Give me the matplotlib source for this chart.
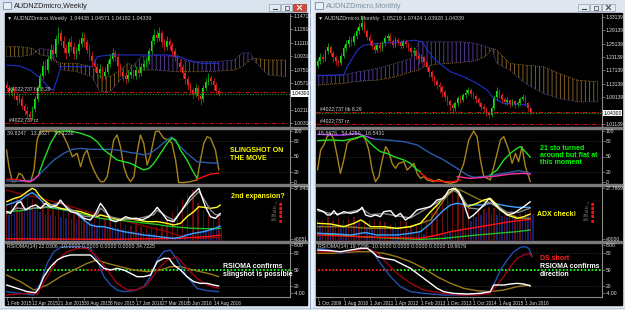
import numpy as np
import matplotlib.pyplot as plt
from matplotlib.patches import Rectangle

plt.rcParams['font.family'] = ['Liberation Sans', 'DejaVu Sans']
plt.rcParams['hatch.linewidth'] = 0.7

W, H = 625, 310
SMALL = ['Liberation Sans Narrow', 'Liberation Sans', 'DejaVu Sans']

# ---------------- weekly window (left) ----------------
wk_open0 = 1.054
wk_close = [1.050, 1.044, 1.048, 1.040, 1.034,
            1.036, 1.026, 1.020, 1.016, 1.012, 1.022,
            1.036, 1.050, 1.066, 1.080, 1.074,
            1.090, 1.102, 1.096, 1.116, 1.124,
            1.114, 1.104, 1.098, 1.112, 1.106,
            1.096, 1.100, 1.110, 1.118, 1.112,
            1.102, 1.094, 1.086, 1.078, 1.070,
            1.076, 1.066, 1.072, 1.082, 1.090,
            1.098, 1.092, 1.080, 1.072, 1.066,
            1.062, 1.068, 1.072, 1.066, 1.074,
            1.070, 1.078, 1.082, 1.086, 1.100,
            1.114, 1.122, 1.118, 1.124, 1.112,
            1.106, 1.114, 1.108, 1.100, 1.092,
            1.084, 1.078, 1.070, 1.062, 1.054,
            1.048, 1.042, 1.050, 1.040, 1.036,
            1.050, 1.058, 1.064, 1.060, 1.054,
            1.047, 1.043]
wk_high = [1.060, 1.054, 1.052, 1.052, 1.044, 1.042, 1.040, 1.030, 1.026, 1.020,
           1.026, 1.040, 1.054, 1.070, 1.086, 1.088, 1.094, 1.110, 1.108, 1.122,
           1.132, 1.130, 1.120, 1.110, 1.118, 1.120, 1.112, 1.106, 1.116, 1.126,
           1.124, 1.116, 1.108, 1.100, 1.090, 1.084, 1.082, 1.080, 1.078, 1.088,
           1.096, 1.104, 1.102, 1.096, 1.084, 1.078, 1.072, 1.074, 1.078, 1.076,
           1.080, 1.078, 1.084, 1.088, 1.092, 1.104, 1.120, 1.130, 1.128, 1.132,
           1.128, 1.118, 1.120, 1.118, 1.112, 1.104, 1.096, 1.090, 1.082, 1.074,
           1.066, 1.058, 1.052, 1.056, 1.054, 1.044, 1.054, 1.064, 1.070, 1.068,
           1.064, 1.058, 1.050]
wk_low = [1.046, 1.040, 1.040, 1.036, 1.028, 1.030, 1.022, 1.014, 1.010, 1.006,
          1.008, 1.018, 1.032, 1.046, 1.062, 1.068, 1.070, 1.086, 1.088, 1.092,
          1.110, 1.108, 1.098, 1.090, 1.094, 1.100, 1.090, 1.090, 1.096, 1.106,
          1.106, 1.098, 1.088, 1.080, 1.072, 1.064, 1.064, 1.060, 1.062, 1.068,
          1.078, 1.086, 1.086, 1.074, 1.066, 1.060, 1.056, 1.058, 1.064, 1.062,
          1.062, 1.064, 1.066, 1.074, 1.078, 1.082, 1.096, 1.110, 1.112, 1.114,
          1.106, 1.100, 1.102, 1.102, 1.094, 1.086, 1.078, 1.072, 1.064, 1.056,
          1.048, 1.042, 1.036, 1.038, 1.034, 1.028, 1.032, 1.046, 1.054, 1.054,
          1.048, 1.042, 1.040]
wk_cloud_bar = [0, 5, 10, 13, 17, 19, 21, 27, 33, 36, 40, 44, 47, 52, 58, 65, 70, 75, 81, 88, 91, 94, 96, 101, 108]
wk_span_a = [1.1059, 1.1059, 1.1037, 1.0950, 1.0925, 1.0858, 1.0836, 1.0836, 1.0790, 1.0656, 1.0656, 1.0746, 1.0836,
             1.0746, 1.0746, 1.0723, 1.0723, 1.0723, 1.0730, 1.0746, 1.0790, 1.0880, 1.0903, 1.0880, 1.0880]
wk_span_b = [1.0925, 1.0925, 1.0950, 1.1037, 1.1014, 1.0880, 1.0750, 1.0723, 1.0656, 1.0455, 1.0455, 1.0612, 1.0723,
             1.0925, 1.0940, 1.0925, 1.0858, 1.0858, 1.0858, 1.0880, 1.0976, 1.0976, 1.0858, 1.0680, 1.0656]
wk_kijun = [(0, 1.0813), (5, 1.080), (9, 1.0746), (13, 1.064), (16, 1.052), (18, 1.047), (19.5, 1.062),
            (21, 1.079), (33, 1.079), (35, 1.0925), (40, 1.0948), (62, 1.0948), (67, 1.0925), (70, 1.088),
            (75, 1.0836), (82, 1.0836)]
wk_yticks = [1.14710, 1.12910, 1.11110, 1.09310, 1.07510, 1.05710, 1.02110, 1.00310]
wk_lines_red = [1.0450, 1.0034]
wk_line_green = 1.0423

wk_dates = ['1 Feb 2015', '12 Apr 2015', '21 Jun 2015', '30 Aug 2015', '8 Nov 2015',
            '17 Jan 2016', '27 Mar 2016', '5 Jun 2016', '14 Aug 2016']

wk_sto_gold = [(0, 62.8), (0.9, 30.1), (2.2, 0.7), (3.5, 0.7), (4.8, 17), (6.0, 13.8), (7.3, 0.7), (9.3, 0.7),
               (10.6, 23.6), (11.8, 82.4), (13.1, 100), (19.6, 100), (21.5, 95.5), (23.4, 75.9), (25.4, 49.7),
               (27.3, 56.2), (28.6, 30.1), (29.9, 53), (31.1, 62.8), (32.4, 39.9), (33.7, 23.6), (35, 10.5),
               (36.3, 0.7), (37.6, 0.7), (38.9, 10.5), (41.4, 82.4), (42.7, 92.2), (44, 69.3), (45.3, 30.1),
               (46.6, 10.5), (47.9, 0.7), (49.2, 10.5), (50.4, 56.2), (51.7, 92.2), (53, 75.9), (54.3, 33.4),
               (55.6, 53), (57.5, 98.7), (58.8, 100), (60.7, 85.7), (62.7, 82.4), (63.9, 75.9), (65.3, 43.2),
               (66.5, -1), (68.5, -1), (71, 0.7), (73.6, 4), (74.9, 43.2), (76.2, 75.9), (77.5, 89),
               (78.8, 85.7), (80.7, 62.8), (82, 23.6)]
wk_sto_green = [(12.5, 17), (14.4, 43.2), (17, 75.9), (19.6, 98.7), (21.5, 100), (24.7, 100), (28.6, 95.5),
                (32.4, 88.9), (35, 79.1), (37.6, 62.8), (40.2, 53), (42.7, 43.2), (45.3, 39.9), (47.9, 36.6),
                (50.4, 30.1), (53, 23.6), (55, 26.8), (56.9, 36.6), (59.5, 56.2), (62, 75.9), (63.9, 85.7),
                (65.3, 82.4), (67.2, 62.8), (69.7, 43.2), (71.7, 23.6), (73.6, 7.2)]
wk_sto_red = [[(0, 5.3), (2.8, 5.3), (5.4, 4)], [(73.6, 5.3), (76.2, 10.5), (78.8, 15.7), (82, 17)]]
wk_sto_magenta = [(5.4, 3), (9.3, 0.7), (11.8, 10.5), (12.5, 15)]
wk_sto_blue = [(0, 2), (5.4, 1.5), (10.6, 4), (14.4, 23.6), (18.3, 43.2), (22.1, 56.2), (25.4, 64.1),
               (28.6, 66), (32.4, 64.1), (40.2, 64.1), (44, 62), (47.9, 57.6), (50.4, 56.2), (53, 53),
               (55.6, 56.2), (58.2, 66), (62, 82.4), (63.9, 88), (65.9, 75.9), (69.7, 56.2), (73.6, 39.9),
               (77.5, 37.9), (82, 36.6)]

wk_adx_red_hist = [70, 75, 80, 78, 82, 76, 70, 72, 66, 62, 64, 58, 52, 55, 50, 46, 44, 40, 45, 42, 38,
                   34, 36, 30, 28, 32, 26, 24, 22, 26, 30, 40, 52, 64, 76, 86, 92, 70, 55, 48, 44, 46]
wk_adx_blue_hist = [48, 52, 55, 58, 60, 56, 52, 50, 48, 46, 44, 42, 40, 38, 36, 34, 32, 30, 28, 26, 25,
                    24, 22, 20, 18, 17, 16, 14, 12, 10, 9, 8, 8, 10, 12, 14, 16, 18, 20, 22, 24, 26]
wk_adx_white = [(0, 53.3), (1.5, 50.3), (4.1, 68.5), (5.4, 71.5), (7.3, 56.4), (9.3, 62.4), (11.2, 65.5),
                (13.1, 59.4), (15.1, 68.5), (17, 61.2), (19.6, 65.5), (20.8, 74.5), (22.8, 62.4), (24.7, 53.3),
                (27.3, 50.3), (29.9, 41.2), (32.4, 38.2), (34.4, 50.3), (36.3, 68.5), (38.2, 56.4), (40.2, 38.2),
                (42.1, 35.2), (44, 38.2), (46, 44.2), (47.9, 41.2), (50.4, 41.2), (52.4, 38.2), (55, 44.2),
                (56.9, 53.3), (58.2, 61.2), (60.1, 50.3), (62, 38.2), (64.6, 35.2), (67.8, 56.4), (71, 80.6),
                (74.3, 95.8), (76.8, 62.4), (78.8, 44.2), (80.7, 41.2), (82.6, 50.3)]
wk_adx_gray = [(0, 50), (4.1, 60), (7.3, 58), (11.2, 60), (15.1, 62), (20.8, 70), (24.7, 58), (29.9, 45),
               (34.4, 44), (36.3, 60), (40.2, 44), (44, 40), (50.4, 40), (56.9, 48), (58.2, 56), (62, 44),
               (64.6, 38), (71, 74), (74.3, 90), (76.8, 72), (78.8, 56), (80.7, 48), (82.6, 47)]
wk_adx_yellow = [(0, 71.5), (3.1, 77.6), (5.4, 80.6), (8, 89.7), (9.9, 95.8), (11.2, 92.7), (12.5, 83.6),
                 (14.4, 74.5), (17, 65.5), (20.8, 59.4), (24.7, 56.4), (28.6, 53.3), (32.4, 47.3), (35, 44.2),
                 (36.3, 47.3), (38.9, 44.2), (41.4, 41.2), (44, 38.2), (46.6, 41.2), (50.4, 38.2), (54.3, 35.2),
                 (58.2, 35.2), (62, 32.1), (64.6, 29.1), (67.2, 32.1), (69.7, 44.2), (72.3, 53.3), (74.3, 62.4),
                 (76.2, 61.2), (78.8, 59.4), (81.3, 61.2), (82.6, 65.5)]
wk_adx_lblue = [(0, 65.5), (2.8, 69.7), (5.4, 74.5), (8, 83.6), (9.9, 87.9), (11.8, 81.8), (14.4, 68.5),
                (18.3, 61.2), (22.1, 57.6), (26, 53.3), (29.9, 38.2), (32.4, 29.1), (35, 26.1), (37.6, 26.1),
                (41.4, 21.2), (45.3, 17), (49.2, 13.9), (53, 10.9), (56.9, 9.1), (60.7, 6.7), (64.6, 4.8),
                (67.2, 6.7), (69.7, 10.9), (72.3, 13.9), (76.2, 17), (80, 21.8), (82.6, 27.3)]
wk_adx_maroon = [(0, 92.7), (5.4, 85.5), (10.6, 80.6), (15.7, 74.5), (20.8, 68.5), (26, 61.2), (31.1, 53.3),
                 (36.3, 47.3), (41.4, 41.2), (46.6, 35.2), (51.7, 29.1), (56.9, 23), (62, 17), (65.9, 10.9),
                 (69.7, 6.7), (74.9, 4.8), (82.6, 6.7)]
wk_adx_red = [(0, 4), (40, 3), (67.2, 4.8), (72.3, 6.7), (77.5, 7.9), (82.6, 10.9)]
wk_adx_green = [(0, 53.3), (5.4, 55), (10.6, 59.4), (15.7, 61.2), (20.8, 57.6), (26, 53.3), (31.1, 47.3),
                (36.3, 41.2), (41.4, 38.2), (46.6, 36.4), (51.7, 33.4), (56.9, 30.9), (62, 27.3), (67.2, 24.8),
                (72.3, 23), (77.5, 22.4), (82.6, 23)]

wk_rsi_white = [(0, 21.8), (4.1, 15.7), (8, 9.7), (11.2, 7.9), (12.5, 15.7), (14.4, 37), (17, 55.1),
                (19.6, 67.3), (22.1, 73.3), (24.7, 76.4), (32.4, 76.4), (35, 64.2), (37.6, 52.1), (40.2, 49.1),
                (42.7, 52.1), (45.3, 49.1), (47.9, 43), (50.4, 37), (53, 37), (55.6, 40), (58.2, 64.2),
                (60.7, 70.3), (62.7, 70.3), (64.6, 58.2), (67.2, 49.1), (69.7, 37), (72.3, 27.9), (74.9, 24.8),
                (77.5, 24.8), (80, 21.8), (82, 20)]
wk_rsi_blue = [(0, 9.7), (5.4, 6.6), (10.6, 3.6), (13.1, 24.8), (15.7, 61.2), (18.3, 82.4), (20.8, 90.3),
               (23.4, 91.5), (28.6, 91.5), (32.4, 88.5), (35, 67.3), (37.6, 37), (40.2, 21.8), (42.7, 12.7),
               (45.3, 9.7), (49.2, 11.5), (53, 18.8), (55.6, 37), (58.2, 67.3), (60.7, 82.4), (63.3, 85.4),
               (65.9, 67.3), (69.7, 37), (73.6, 15.7), (77.5, 11.5), (82, 9.7)]
wk_rsi_red = [(0, 3.6), (8, 6.6), (11.8, 5.4), (15.7, 37), (19.6, 67.3), (23.4, 82.4), (27.3, 88.5),
              (31.1, 88.5), (35, 73.3), (38.9, 49.1), (42.7, 24.8), (46.6, 12.7), (50.4, 12.7), (54.3, 21.8),
              (58.2, 49.1), (62, 67.3), (65.9, 73.3), (69.7, 52.1), (73.6, 33.9), (77.5, 21.8), (82, 15.7)]
wk_rsi_olive = [(0, 40), (5.4, 27.9), (10.6, 12.7), (15.7, 21.8), (20.8, 37), (26, 49.1), (31.1, 61.2),
                (35, 67.3), (38.9, 61.2), (44, 55.1), (49.2, 49.1), (54.3, 46.1), (59.5, 49.1), (63.3, 55.1),
                (67.2, 55.1), (71, 50.3), (74.9, 46.1), (78.8, 41.8), (82, 37)]
wk_rsi_mid = [(0, 31, '#20ff20'), (31, 42, '#ff2020'), (42, 109.5, '#20ff20')]

# ---------------- monthly window (right) ----------------
mo_open0 = 1.185
mo_close = [1.198, 1.212, 1.205, 1.228, 1.240,
            1.222, 1.210, 1.200, 1.192,
            1.215, 1.238, 1.250,
            1.262, 1.255, 1.275, 1.290, 1.300,
            1.312,
            1.290, 1.272, 1.258, 1.245, 1.232,
            1.248, 1.238, 1.252,
            1.268, 1.275, 1.260,
            1.248, 1.262, 1.255, 1.245, 1.258, 1.250,
            1.238, 1.225, 1.230, 1.215,
            1.205, 1.210, 1.195,
            1.180, 1.165, 1.150,
            1.140, 1.128, 1.120, 1.105,
            1.092, 1.080, 1.066, 1.058,
            1.072, 1.088, 1.082, 1.096,
            1.104, 1.112, 1.100, 1.094,
            1.085, 1.074, 1.062, 1.056, 1.044, 1.036,
            1.058, 1.090, 1.108, 1.098, 1.084,
            1.076, 1.082, 1.070, 1.078, 1.066, 1.074,
            1.084, 1.092,
            1.072, 1.058, 1.043]
mo_high = [1.208, 1.222, 1.220, 1.236, 1.252, 1.246, 1.228, 1.216, 1.206, 1.222,
           1.246, 1.262, 1.274, 1.270, 1.284, 1.300, 1.312, 1.337, 1.318, 1.296,
           1.280, 1.266, 1.252, 1.256, 1.256, 1.260, 1.276, 1.284, 1.282, 1.266,
           1.270, 1.268, 1.262, 1.266, 1.264, 1.256, 1.244, 1.240, 1.236, 1.222,
           1.220, 1.214, 1.200, 1.186, 1.172, 1.158, 1.146, 1.136, 1.126, 1.112,
           1.098, 1.086, 1.074, 1.080, 1.094, 1.096, 1.104, 1.114, 1.122, 1.118,
           1.108, 1.100, 1.090, 1.080, 1.070, 1.062, 1.050, 1.064, 1.098, 1.121,
           1.114, 1.104, 1.090, 1.092, 1.086, 1.086, 1.082, 1.080, 1.090, 1.100,
           1.096, 1.076, 1.062]
mo_low = [1.178, 1.190, 1.195, 1.200, 1.220, 1.214, 1.196, 1.188, 1.180, 1.186,
          1.208, 1.230, 1.242, 1.244, 1.248, 1.266, 1.280, 1.292, 1.282, 1.262,
          1.246, 1.236, 1.222, 1.226, 1.228, 1.230, 1.244, 1.258, 1.252, 1.238,
          1.240, 1.246, 1.236, 1.238, 1.240, 1.228, 1.214, 1.216, 1.204, 1.194,
          1.196, 1.184, 1.168, 1.152, 1.138, 1.128, 1.116, 1.104, 1.092, 1.078,
          1.066, 1.050, 1.044, 1.050, 1.064, 1.072, 1.076, 1.088, 1.096, 1.090,
          1.084, 1.074, 1.064, 1.052, 1.044, 1.034, 1.028, 1.030, 1.052, 1.082,
          1.088, 1.074, 1.066, 1.068, 1.062, 1.064, 1.058, 1.060, 1.068, 1.078,
          1.066, 1.050, 1.036]
mo_cloud_bar = [0, 5, 10, 14, 18, 23, 29, 36, 39, 41, 46, 50, 55, 61, 65, 67, 69, 74, 80, 87, 93, 100, 108]
mo_span_a = [1.127, 1.130, 1.132, 1.137, 1.140, 1.142, 1.150, 1.167, 1.172, 1.182, 1.190, 1.192, 1.195,
             1.200, 1.215, 1.237, 1.232, 1.192, 1.187, 1.182, 1.162, 1.142, 1.137]
mo_span_b = [1.157, 1.157, 1.157, 1.165, 1.170, 1.177, 1.190, 1.207, 1.257, 1.257, 1.257, 1.257, 1.257,
             1.252, 1.242, 1.237, 1.192, 1.172, 1.132, 1.102, 1.087, 1.077, 1.077]
mo_kijun = [(0, 1.155), (10.1, 1.158), (11.4, 1.182), (15.3, 1.232), (17.8, 1.247), (23, 1.252),
            (33.2, 1.257), (37.1, 1.262), (40.3, 1.257), (42.3, 1.232), (44.8, 1.207), (48.6, 1.182),
            (51.2, 1.167), (56.3, 1.152), (61.4, 1.132), (65.3, 1.112), (67.8, 1.087), (71.7, 1.072),
            (79.4, 1.068), (82, 1.064)]
mo_yticks = [1.33139, 1.29139, 1.25139, 1.21139, 1.17139, 1.13139, 1.09139, 1.01139]
mo_lines_red = [1.0464, 1.0104]
mo_line_green = 1.0419

mo_dates = ['1 Oct 2009', '1 Aug 2010', '1 Jun 2011', '1 Apr 2012', '1 Feb 2013',
            '1 Dec 2013', '1 Oct 2014', '1 Aug 2015', '1 Jun 2016']

mo_sto_gold = [(0, 23.6), (1.2, 62.8), (2.4, 72.6), (3.7, 88.9), (5, 95.5), (6.3, 82.4), (7.6, 49.7),
               (8.8, 17), (10.1, 43.2), (11.4, 75.9), (12.7, 82.4), (15.3, 85.7), (17.2, 92.2), (18.5, 82.4),
               (19.7, 62.8), (21, 23.6), (22.3, 0.7), (23.6, 10.5), (24.9, 43.2), (26.2, 69.3), (27.4, 59.5),
               (28.7, 36.6), (30, 26.8), (31.3, 36.6), (33.2, 39.9), (34.5, 23.6), (35.8, 30.1), (37.1, 36.6),
               (38.3, 17), (39.6, 7.2), (40.9, 10.5), (42.2, 4), (44.7, 0.7), (46.7, 5.3), (48.6, 0.7),
               (51.2, -2.6), (53.7, 0.7), (56.3, 36.6), (58.2, 82.4), (60.1, 100), (61.4, 88.9), (62.7, 43.2),
               (64, 10.5), (66.5, 4), (68.5, 43.2), (70.4, 82.4), (71.7, 88.9), (73.6, 62.8), (74.9, 36.6),
               (76.2, 56.2), (77.4, 39.9), (78.7, 69.3), (80, 30.1), (81.9, 0.7)]
mo_sto_purple = [(0, 94), (5, 92), (10.1, 92), (15.3, 95), (18.5, 90), (21.7, 84)]
mo_sto_blue = [(21.7, 84), (26.8, 82.4), (33.2, 79.1), (38.3, 72.6), (43.5, 56.2), (48.6, 43.2), (53.7, 26.8),
               (57.6, 13.8), (60.1, 9.2), (64, 10.5), (67.8, 13.8), (71.7, 17), (75.5, 20.3), (77.4, 22.3),
               (79.4, 20.3), (81.9, 17)]
mo_sto_green = [[(0, 81.1), (5, 82.4), (10.1, 81.1), (14, 85.7), (17.8, 90.2), (19.1, 82.4), (21.7, 69.3),
                 (24.2, 59.5), (26.8, 56.2), (29.4, 49.7), (33.2, 43.2), (35.8, 36.6), (38.3, 23.6), (39.6, 20.3)],
                [(66.5, 13.8), (69.1, 23.6), (71.7, 43.2), (74.2, 56.2), (76.8, 66), (78.1, 69.3), (80, 59.5),
                 (81.9, 48.4)]]
mo_sto_red = [(39.6, 18.3), (42.2, 7.2), (44.7, 2.6), (48.6, 0.7), (52.4, 0.7), (55, 4)]
mo_sto_magenta = [(53.7, 10.5), (58.8, 7.2), (64, 9.2), (69.1, 11.8), (74.2, 15.7), (79.4, 17), (81.9, 15.1)]

mo_adx_red_hist = [40, 38, 44, 36, 42, 38, 40, 44, 36, 34, 38, 40, 36, 34, 30, 32, 36, 34, 30, 28, 32,
                   40, 52, 64, 74, 84, 92, 94, 80, 60, 50, 54, 58, 62, 60, 54, 48, 46, 48, 50, 52, 56]
mo_adx_blue_hist = [30, 28, 32, 30, 26, 28, 30, 32, 28, 26, 24, 26, 22, 20, 22, 24, 20, 18, 16, 14, 12,
                    10, 10, 12, 14, 16, 20, 24, 28, 36, 44, 48, 52, 50, 48, 46, 44, 42, 44, 46, 48, 50]
mo_adx_white = [(0, 57.6), (2.4, 53.3), (3.7, 47.3), (5, 47.3), (6.3, 55.2), (7.6, 47.3), (10.1, 53.3),
                (12.7, 50.3), (15.3, 53.3), (17.2, 61.2), (18.5, 47.3), (20.4, 44.2), (22.3, 47.3), (24.2, 44.2),
                (25.5, 53.3), (28.1, 55.2), (30, 44.2), (31.9, 50.3), (33.8, 38.2), (35.8, 44.2), (38.3, 56.4),
                (40.9, 59.4), (43.5, 62.4), (46, 74.5), (48.6, 77.6), (50.5, 92.7), (52.4, 95.8), (54.4, 89.7),
                (56.3, 68.5), (58.2, 41.2), (60.1, 47.3), (62.1, 56.4), (64, 65.5), (66, 77.6), (67.8, 68.5),
                (70.4, 56.4), (73, 47.3), (75.5, 50.3), (77.4, 56.4), (79.4, 62.4), (81.9, 71.5)]
mo_adx_gray = [(0, 55), (5, 50), (10.1, 50), (17.2, 58), (20.4, 48), (25.5, 50), (30, 46), (35.8, 42),
               (40.9, 56), (46, 70), (52.4, 92), (55, 85), (58.2, 60), (62.1, 58), (66, 70), (70.4, 60),
               (73, 52), (77.4, 52), (81.9, 60)]
mo_adx_yellow = [(0, 32.1), (5, 30.9), (10.1, 26.1), (14, 32.1), (16.5, 38.2), (17.8, 35.2), (20.4, 26.1),
                 (25.5, 26.1), (30.6, 23), (35.8, 26.1), (39.6, 32.1), (43.5, 53.3), (46.7, 68.5), (48.6, 80.6),
                 (51.2, 89.7), (53.1, 95.8), (55, 80.6), (57.6, 62.4), (61.4, 68.5), (64, 74.5), (66.5, 77.6),
                 (69.1, 65.5), (73, 47.3), (76.8, 41.2), (79.4, 44.2), (81.9, 49.1)]
mo_adx_lblue = [(0, 14), (7.6, 12.7), (12.7, 10.9), (16.5, 14), (18.5, 15.2), (23, 10.9), (30.6, 10.9),
                (35.8, 14), (39.6, 17), (43.5, 32.1), (46, 44.2), (48.6, 56.4), (51.2, 65.5), (53.7, 68.5),
                (57.6, 65.5), (64, 65.5), (66.5, 68.5), (69.1, 67.3), (73, 63.6), (76.8, 61.2), (81.9, 61.2)]
mo_adx_olive = [(0, 26.1), (10.1, 26.1), (20.4, 23), (30.6, 23), (35.8, 26.1), (43.5, 38.2), (48.6, 74.5),
                (52.4, 95.8), (55, 92.7), (58.8, 83.6), (62.7, 74.5), (66.5, 69.7), (70.4, 56.4), (74.2, 47.3),
                (78.1, 41.2), (81.9, 41.2)]
mo_adx_red = [(0, 10.9), (23, 6.7), (39.6, 4.8), (46, 10.9), (51.2, 17), (58.8, 23), (66.5, 29.1),
              (74.2, 35.2), (81.9, 39.4)]
mo_adx_green = [(0, 14), (7.6, 10.9), (16.5, 7.9), (29.4, 4.8), (39.6, 3), (48.6, 4.8), (55, 7.9),
                (61.4, 10.9), (69.1, 14), (76.8, 17), (81.9, 20)]

mo_rsi_white = [(0, 85.4), (5, 84.2), (8.8, 82.4), (12.7, 85.4), (16.5, 88.5), (19.1, 88.5), (21, 82.4),
                (23, 73.3), (25.5, 70.3), (29.4, 67.3), (33.2, 58.2), (35.8, 52.1), (38.3, 43), (40.9, 33.9),
                (43.5, 24.8), (46, 15.7), (48.6, 9.7), (52.4, 6.6), (57.6, 5.4), (62.7, 6.6), (66.5, 9.7),
                (67.8, 21.8), (71.7, 21.8), (74.2, 23.6), (76.8, 24.8), (79.4, 23.6), (81.9, 20)]
mo_rsi_blue = [(0, 88.5), (5, 85.4), (8.8, 79.4), (11.4, 82.4), (15.3, 86.6), (19.1, 88.5), (21.7, 79.4),
               (24.2, 61.2), (28.1, 37), (31.9, 18.8), (35.8, 9.7), (40.9, 6.6), (48.6, 3.6), (55, 3.6),
               (61.4, 6.6), (66.5, 9.7), (67.8, 21.8), (70.4, 49.1), (73, 67.3), (75.5, 82.4), (78.1, 90.3),
               (80, 91.5), (81.3, 88.5), (82.6, 73.3)]
mo_rsi_red = [(0, 82.4), (10.1, 82.4), (15.3, 85.4), (19.1, 88.5), (23, 79.4), (26.8, 61.2), (30.6, 43),
              (35.8, 24.8), (40.9, 12.7), (48.6, 6.6), (55, 3.6), (61.4, 3.6), (66.5, 6.6), (69.1, 21.8),
              (71.7, 37), (74.2, 55.1), (76.8, 70.3), (79.4, 76.4), (81.3, 79.4), (82.6, 73.3)]
mo_rsi_olive = [(0, 79.4), (5, 79.4), (10.1, 80.6), (15.3, 82.4), (20.4, 82.4), (25.5, 79.4), (30.6, 73.3),
                (35.8, 64.2), (40.9, 52.1), (46, 37), (51.2, 24.8), (56.3, 15.7), (61.4, 11.5), (66.5, 9.7),
                (71.7, 12.7), (76.8, 18.8), (81.9, 21.8)]
mo_rsi_mid = [(0, 29, '#ff2020'), (29, 109.5, '#20ff20')]


def px_axes(fig, x0, y0, x1, y1):
    return fig.add_axes([x0 / W, 1 - y1 / H, (x1 - x0) / W, (y1 - y0) / H])


def line(ax, pts, color, lw=1.0):
    xs, ys = zip(*pts)
    ax.plot(xs, ys, color=color, lw=lw, solid_joinstyle='round', solid_capstyle='round')


def style(ax, ylim, ticks, labels):
    ax.set_facecolor('none')
    ax.set_xlim(-0.6, 109.5)
    ax.set_ylim(*ylim)
    for s in ['left', 'top', 'bottom']:
        ax.spines[s].set_visible(False)
    ax.spines['right'].set_color('#8a8a8a')
    ax.spines['right'].set_linewidth(0.8)
    ax.yaxis.tick_right()
    ax.set_yticks(ticks)
    ax.set_yticklabels(labels, family=SMALL)
    ax.tick_params(axis='y', length=2, width=0.5, color='#8a8a8a', labelcolor='#e0e0e0', labelsize=3.6, pad=0.8)
    ax.set_xticks([])


def candles(ax, op0, close, high, low):
    c = np.array(close)
    o = np.array([op0] + close[:-1])
    x = np.arange(len(c))
    up = c >= o
    ax.vlines(x, low, high, colors=np.where(up, '#10a010', '#c01818'), lw=0.6)
    ax.bar(x, c - o, bottom=o, width=0.62, color=np.where(up, '#18e018', '#ff2a2a'), linewidth=0)


def cloud(ax, bars, a, b):
    bars, a, b = np.array(bars), np.array(a), np.array(b)
    ax.fill_between(bars, a, b, where=a >= b, interpolate=True, facecolor='none',
                    edgecolor='#7e6024', hatch='||||', linewidth=0)
    ax.fill_between(bars, a, b, where=a < b, interpolate=True, facecolor='none',
                    edgecolor='#54388e', hatch='||||', linewidth=0)
    ax.plot(bars, a, color='#b08830', lw=0.6, ls=(0, (1, 1.5)))
    ax.plot(bars, b, color='#7a58c0', lw=0.6, ls=(0, (1, 1.5)))


def window(fig, x0, x1, d):
    px = x1 - 20
    # main price panel
    ax = px_axes(fig, x0, 14, px, 127)
    style(ax, d['ylim'], d['yticks'], ['%.5f' % v for v in d['yticks']])
    cloud(ax, d['cloud_bar'], d['span_a'], d['span_b'])
    line(ax, d['kijun'], '#2030c8', 0.8)
    candles(ax, d['open0'], d['close'], d['high'], d['low'])
    for v in d['red_lines']:
        ax.axhline(v, color='#c01010', lw=0.8, ls=(0, (4, 1.5, 1, 1.5)))
    ax.axhline(d['green_line'], color='#20a020', lw=0.8, ls=(0, (1, 1.5)))
    ax.text(1.0, d['red_lines'][0] + d['lab_off'], '#4022;737 fib 8.29', fontsize=3.6, color='#d8d8d8',
            family=SMALL)
    ax.text(1.0, d['red_lines'][1] + d['lab_off'], '#4022;737 rz', fontsize=3.6, color='#d8d8d8', family=SMALL)
    ax.text(1.0 + 1.5 / (px - x0), d['close'][-1], '%.5f' % d['close'][-1], transform=ax.get_yaxis_transform(),
            fontsize=3.6, color='black', va='center', ha='left', family=SMALL,
            bbox=dict(facecolor='white', edgecolor='none', pad=0.4))
    ax.text(0.006, 0.985, d['title'], transform=ax.transAxes, fontsize=3.8, color='#d0d0d0', va='top',
            family=SMALL)

    # stochastics
    ax = px_axes(fig, x0, 129, px, 184)
    style(ax, (-3.9, 103.9), [100, 80, 50, 20, 0], ['100', '80', '50', '20', '0'])
    for v in [80, 50, 20]:
        ax.axhline(v, color='#505050', lw=0.5, ls=(0, (1, 2)))
    for seg in d['sto']:
        line(ax, seg[0], seg[1])
    ax.text(0.006, 0.97, d['sto_title'], transform=ax.transAxes, fontsize=3.8, color='#d0d0d0', va='top',
            family=SMALL)

    # ADX
    ax = px_axes(fig, x0, 186, px, 241)
    style(ax, (0, 100), [97, 4], d['adx_labels'])
    bars = np.arange(0, 2 * len(d['hist_red']), 2)
    ax.bar(bars, d['hist_red'], width=0.55, color='#6a0a0a', linewidth=0)
    ax.bar(bars + 1, d['hist_blue'], width=0.55, color='#14207a', linewidth=0)
    for seg in d['adx']:
        line(ax, seg[0], seg[1])
    for i in range(5):
        ax.text(1.0 - 10 / (px - x0), 0.68 - i * 0.075, '\u25a0', transform=ax.transAxes, fontsize=4,
                color='#ff1010', va='center', ha='center')
        ax.text(1.0 - 13 / (px - x0), 0.68 - i * 0.075, ['7', '21', '50', '100', '200'][i], transform=ax.transAxes,
                fontsize=2.6, color='#909090', va='center', ha='right', family=SMALL)

    # RSIOMA
    ax = px_axes(fig, x0, 243, px, 297)
    style(ax, (0, 98.2), [94.5, 80, 50, 20, 7.3], ['8.00', '80', '50', '20', '-4.00'])
    for v in [80, 20]:
        ax.axhline(v, color='#505050', lw=0.5, ls=(0, (1, 2)))
    for s0, s1, col in d['rsi_mid']:
        ax.hlines(50, s0, s1, color=col, lw=1.3, ls=(0, (1, 1)))
    for seg in d['rsi']:
        line(ax, seg[0], seg[1])
    ax.text(0.006, 0.985, d['rsi_title'], transform=ax.transAxes, fontsize=3.8, color='#d0d0d0', va='top',
            family=SMALL)
    ax.spines['bottom'].set_visible(True)
    ax.spines['bottom'].set_color('#8a8a8a')
    ax.spines['bottom'].set_linewidth(0.8)
    ax.set_xticks(np.arange(0, 90, 10))
    ax.set_xticklabels(d['dates'], ha='left', family=SMALL)
    ax.tick_params(axis='x', length=2, width=0.5, color='#8a8a8a', labelcolor='#e0e0e0', labelsize=3.4, pad=0.8)


fig = plt.figure(figsize=(W / 100, H / 100), dpi=100, facecolor='#d3dde9')
bg = fig.add_axes([0, 0, 1, 1])
bg.set_xlim(0, W)
bg.set_ylim(H, 0)
bg.axis('off')

# window frames
bg.add_patch(Rectangle((0, 0), 309, 310, color='#d9e3ee'))
bg.add_patch(Rectangle((312, 0), 313, 310, color='#dfe6ee'))
bg.add_patch(Rectangle((308.5, 0), 3.5, 310, color='#eef3f9'))
bg.plot([310, 310], [0, 310], color='#8eaad0', lw=0.8)
bg.add_patch(Rectangle((5, 13), 302, 292, color='black'))
bg.add_patch(Rectangle((316, 13), 306, 292, color='black'))
for y in [127, 184, 241]:
    bg.add_patch(Rectangle((5, y), 302, 2, color='#7a7a7a'))
    bg.add_patch(Rectangle((316, y), 306, 2, color='#7a7a7a'))
bg.plot([0, 625], [307.5, 307.5], color='#b8c4d2', lw=0.6)

# title bars
for wx, title, tcol in [(3, 'AUDNZDmicro,Weekly', '#202020'), (315, 'AUDNZDmicro,Monthly', '#8090a0')]:
    bg.add_patch(Rectangle((wx, 2), 8, 7, facecolor='#e8eef6', edgecolor='#5a7aa8', lw=0.5))
    fig.text((wx + 11) / W, 1 - 6.5 / H, title, fontsize=5.2, color=tcol, va='center', ha='left')
for bx, act in [(269, True), (578, False)]:
    bg.add_patch(Rectangle((bx, 4), 11, 7, facecolor='#e4eaf2', edgecolor='#8fa0b8', lw=0.5))
    bg.plot([bx + 3.5, bx + 7.5], [8.5, 8.5], color='#404040', lw=0.8)
    bg.add_patch(Rectangle((bx + 12, 4), 11, 7, facecolor='#e4eaf2', edgecolor='#8fa0b8', lw=0.5))
    bg.add_patch(Rectangle((bx + 15.5, 5.5), 4, 4, facecolor='none', edgecolor='#404040', lw=0.5))
    bg.add_patch(Rectangle((bx + 24, 4), 13, 7, facecolor='#d04a3c' if act else '#e4eaf2',
                           edgecolor='#9a3a30' if act else '#8fa0b8', lw=0.5))
    xc = '#ffffff' if act else '#404040'
    bg.plot([bx + 28.5, bx + 32.5], [5.5, 9.5], color=xc, lw=0.8)
    bg.plot([bx + 28.5, bx + 32.5], [9.5, 5.5], color=xc, lw=0.8)

wk = dict(open0=wk_open0, close=wk_close, high=wk_high, low=wk_low,
          ylim=(0.9980, 1.1498), yticks=wk_yticks, cloud_bar=wk_cloud_bar, span_a=wk_span_a, span_b=wk_span_b,
          kijun=wk_kijun, red_lines=wk_lines_red, green_line=wk_line_green, lab_off=0.0025,
          title='\u25bc AUDNZDmicro,Weekly  1.04438 1.04571 1.04182 1.04339',
          sto_title='39.8247   13.3827   50.1238',
          sto=[(wk_sto_gold, '#a8841c'), (wk_sto_blue, '#2a5ca8'), (wk_sto_red[0], '#e01010'),
               (wk_sto_magenta, '#ff30a0'), (wk_sto_green, '#20e020'), (wk_sto_red[1], '#ff1010')],
          adx_labels=['37.840', '#0051'], hist_red=wk_adx_red_hist, hist_blue=wk_adx_blue_hist,
          adx=[(wk_adx_maroon, '#8b0000'), (wk_adx_green, '#20c020'), (wk_adx_red, '#ff1010'),
               (wk_adx_lblue, '#3aa0ff'), (wk_adx_yellow, '#ffff20'), (wk_adx_gray, '#8a8a8a'),
               (wk_adx_white, '#ffffff')],
          rsi_title='RSIOMA(14) 22.0306 -10.0000 0.0000 0.0000 0.0000 34.7225',
          rsi_mid=wk_rsi_mid,
          rsi=[(wk_rsi_olive, '#9a7a18'), (wk_rsi_blue, '#2050b0'), (wk_rsi_red, '#a00010'),
               (wk_rsi_white, '#ffffff')],
          dates=wk_dates)
window(fig, 5, 310, wk)

mo = dict(open0=mo_open0, close=mo_close, high=mo_high, low=mo_low,
          ylim=(1.00139, 1.34039), yticks=mo_yticks, cloud_bar=mo_cloud_bar, span_a=mo_span_a, span_b=mo_span_b,
          kijun=mo_kijun, red_lines=mo_lines_red, green_line=mo_line_green, lab_off=0.005,
          title='\u25bc AUDNZDmicro,Monthly  1.05219 1.07424 1.03928 1.04339',
          sto_title='15.6676   54.4250   16.5431',
          sto=[(mo_sto_gold, '#a8841c'), (mo_sto_purple, '#b040ff'), (mo_sto_blue, '#2a5ca8'),
               (mo_sto_green[0], '#20e020'), (mo_sto_red, '#ff1010'), (mo_sto_magenta, '#ff30a0'),
               (mo_sto_green[1], '#20e020')],
          adx_labels=['27.7869', '#0000'], hist_red=mo_adx_red_hist, hist_blue=mo_adx_blue_hist,
          adx=[(mo_adx_green, '#20c020'), (mo_adx_red, '#ff1010'), (mo_adx_olive, '#8a7a20'),
               (mo_adx_lblue, '#3aa0ff'), (mo_adx_yellow, '#ffff20'), (mo_adx_gray, '#8a8a8a'),
               (mo_adx_white, '#ffffff')],
          rsi_title='RSIOMA(14) 19.7296 -10.0000 0.0000 0.0000 0.0000 19.6679',
          rsi_mid=mo_rsi_mid,
          rsi=[(mo_rsi_olive, '#9a7a18'), (mo_rsi_blue, '#2050b0'), (mo_rsi_red, '#a00010'),
               (mo_rsi_white, '#ffffff')],
          dates=mo_dates)
window(fig, 316, 622, mo)

# annotations
notes = [(230, 150, 'SLINGSHOT ON', '#ffff00'), (230, 158, 'THE MOVE', '#ffff00'),
         (231, 197, '2nd expansion?', '#ffff00'),
         (223, 267, 'RSIOMA confirms', '#ffffff'), (223, 275, 'slingshot is possible', '#ffffff'),
         (540, 148, '21 sto turned', '#00ff00'), (540, 156, 'around but flat at', '#00ff00'),
         (540, 163, 'this moment', '#00ff00'),
         (537, 215, 'ADX check!', '#ffff00'),
         (540, 259, 'DS short', '#ff2020'),
         (540, 267, 'RSIOMA confirms', '#ffffff'), (540, 275, 'direction', '#ffffff')]
for x, y, s, c in notes:
    fig.text(x / W, 1 - y / H, s, fontsize=5.0, fontweight='bold', color=c, va='center', ha='left')

fig.savefig('out.png', dpi=100, facecolor=fig.get_facecolor())
